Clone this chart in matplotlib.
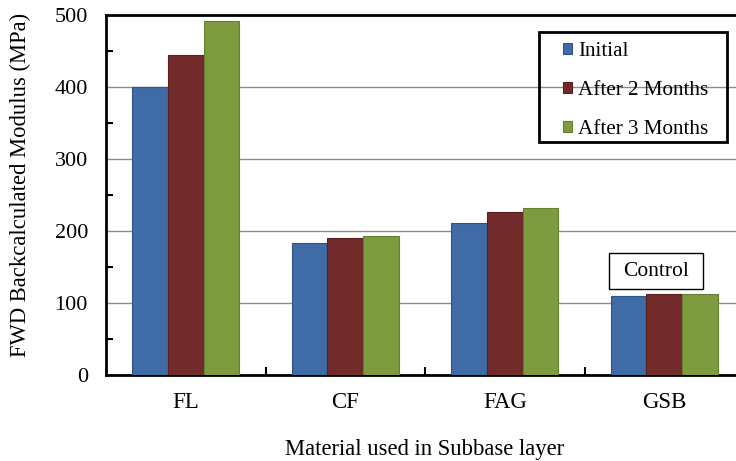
import matplotlib
matplotlib.use("Agg")
import matplotlib.pyplot as plt
import numpy as np
from matplotlib.patches import Rectangle

categories = ["FL", "CF", "FAG", "GSB"]
series_names = ["Initial", "After 2 Months", "After 3 Months"]
initial = [400, 183, 211, 110]
after2 = [444, 190, 226, 112]
after3 = [492, 193, 232, 113]
series = [initial, after2, after3]
colors = ["#3f6ba6", "#722b2a", "#7e9b3f"]
edge_colors = ["#2f5588", "#5a1f1e", "#63802c"]

plt.rcParams['font.family'] = ['Liberation Serif', 'DejaVu Serif']

W, H = 736, 461
fig = plt.figure(figsize=(W / 100, H / 100), dpi=100)
ax = fig.add_axes([106 / W, 1 - 375 / H, (744 - 106) / W, (375 - 15) / H])

x = np.arange(len(categories)) + 0.5
bw = 0.2226
for i, (vals, name) in enumerate(zip(series, series_names)):
    ax.bar(x + (i - 1) * bw, vals, width=bw, color=colors[i], edgecolor=edge_colors[i],
           linewidth=0.8, label=name, zorder=3)

ax.set_xlim(0, 4)
ax.set_ylim(0, 500)
ax.set_yticks(np.arange(0, 501, 100))
ax.set_yticks(np.arange(50, 500, 100), minor=True)
ax.yaxis.grid(True, which='major', color='#8c8c8c', linewidth=1.0, zorder=0)
ax.set_axisbelow(True)

ax.set_xticks(x)
ax.set_xticklabels(categories, fontsize=16.5)
ax.set_xticks([1, 2, 3], minor=True)
ax.tick_params(axis='x', which='major', length=0, pad=12)
ax.tick_params(axis='x', which='minor', direction='in', length=6, width=1.5)
ax.tick_params(axis='y', which='major', direction='in', length=0, labelsize=16, pad=13)
ax.tick_params(axis='y', which='minor', direction='in', length=5, width=1.5)

for s in ['left', 'bottom', 'top']:
    ax.spines[s].set_linewidth(2)
    ax.spines[s].set_color('black')
ax.spines['right'].set_visible(False)

ax.set_ylabel("FWD Backcalculated Modulus (MPa)", fontsize=16.3, va='center')
ax.yaxis.set_label_coords((20 - 106) / 638, (375 - 185) / 360)
ax.set_xlabel("Material used in Subbase layer", fontsize=16.3, labelpad=19)

# legend
leg = ax.legend(loc='upper left', bbox_to_anchor=(559 / W, 1 - 38 / H),
                bbox_transform=fig.transFigure, frameon=False, fontsize=15.2,
                handlelength=0.4, handleheight=0.4, handletextpad=0.3,
                labelspacing=0.95, borderaxespad=0, borderpad=0.2)
fig.patches.append(Rectangle((539 / W, 1 - 142 / H), (727 - 539) / W, (142 - 32) / H,
                             transform=fig.transFigure, fill=False, edgecolor='black',
                             linewidth=2, zorder=10))

# Control box
fig.text(656 / W, 1 - 271 / H, "Control", ha='center', va='center', fontsize=15.5)
fig.patches.append(Rectangle((609 / W, 1 - 289 / H), (703 - 609) / W, (289 - 253) / H,
                             transform=fig.transFigure, fill=False, edgecolor='black',
                             linewidth=1.0, zorder=10))

fig.savefig("out.png", dpi=100)
